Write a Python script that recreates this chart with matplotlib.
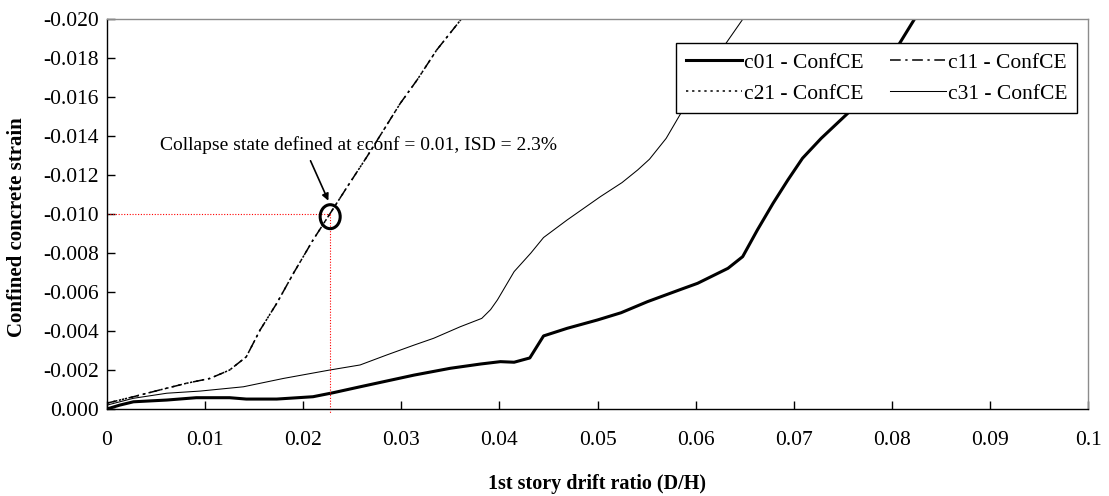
import matplotlib
matplotlib.use("Agg")
import matplotlib.pyplot as plt
from matplotlib.patches import Ellipse
import numpy as np

plt.rcParams['font.family'] = ['Liberation Serif', 'DejaVu Serif']
plt.rcParams['axes.unicode_minus'] = False

# drift ratio / strain
c01_x = [0, 0.0013, 0.0027, 0.0061, 0.0091, 0.0125, 0.0142, 0.0173, 0.0210, 0.0231,
         0.0258, 0.0313, 0.0350, 0.0381, 0.0401, 0.0415, 0.0431, 0.0445, 0.0469, 0.0500,
         0.0524, 0.0551, 0.0585, 0.0602, 0.0633, 0.0648, 0.0663, 0.0679, 0.0694, 0.0709,
         0.0728, 0.0755, 0.0780, 0.0808, 0.0823]
c01_y = [0, -0.0002, -0.00037, -0.00046, -0.00058, -0.00058, -0.00051, -0.00051, -0.00063, -0.00084,
         -0.00114, -0.00174, -0.00209, -0.00231, -0.00243, -0.0024, -0.00262, -0.00375, -0.00414, -0.00457,
         -0.00494, -0.00551, -0.00614, -0.00645, -0.00722, -0.00782, -0.00919, -0.01056, -0.01175, -0.01287,
         -0.01389, -0.01517, -0.0166, -0.01877, -0.0200]

c11_x = [0, 0.0027, 0.0054, 0.0081, 0.0105, 0.0125, 0.0142, 0.0156, 0.0173, 0.0190,
         0.0210, 0.0227, 0.0245, 0.0265, 0.0282, 0.0299, 0.0316, 0.0336, 0.0361]
c11_y = [-0.0003, -0.00063, -0.00098, -0.00132, -0.00157, -0.0020, -0.00268, -0.00405, -0.00542, -0.00696,
         -0.00867, -0.0100, -0.01141, -0.01295, -0.01432, -0.01569, -0.01688, -0.01842, -0.0200]

# c21 lies on top of c11 in the reference
c21_x = [0, 0.0027, 0.0054, 0.0081, 0.0105, 0.0125, 0.0142, 0.0156, 0.0173, 0.0190,
         0.0210, 0.0227, 0.0245, 0.0265, 0.0282, 0.0299, 0.0316, 0.0336, 0.0361]
c21_y = [-0.0003, -0.00063, -0.00098, -0.00132, -0.00157, -0.0020, -0.00268, -0.00405, -0.00542, -0.00696,
         -0.00867, -0.0100, -0.01141, -0.01295, -0.01432, -0.01569, -0.01688, -0.01842, -0.0200]

c31_x = [0, 0.0027, 0.0061, 0.0095, 0.0139, 0.0180, 0.0227, 0.0258, 0.0285, 0.0313,
         0.0333, 0.0360, 0.0382, 0.0391, 0.0398, 0.0415, 0.0432, 0.0445, 0.0469, 0.0503,
         0.0525, 0.0541, 0.0553, 0.0570, 0.0585, 0.0610, 0.0631, 0.0648]
c31_y = [-0.0002, -0.00055, -0.00081, -0.00092, -0.00114, -0.00157, -0.0020, -0.00226, -0.00277, -0.00328,
         -0.00363, -0.00422, -0.00465, -0.0051, -0.0056, -0.00705, -0.0080, -0.0088, -0.0097, -0.0109,
         -0.01162, -0.01227, -0.01282, -0.01389, -0.01518, -0.0170, -0.01877, -0.0200]

collapse_isd = 0.0227
collapse_strain = -0.010

fig = plt.figure(figsize=(11.09, 4.96), dpi=100)
ax = fig.add_axes([107 / 1109, 1 - 409 / 496, (1088 - 107) / 1109, (409 - 19.3) / 496])

l01, = ax.plot(c01_x, c01_y, color='black', lw=2.2, label='c01 - ConfCE')
l11, = ax.plot(c11_x, c11_y, color='black', lw=1.1, dashes=(7, 3, 1.5, 3), label='c11 - ConfCE')
l21, = ax.plot(c21_x, c21_y, color='black', lw=1.1, dashes=(1.5, 2.5), label='c21 - ConfCE')
l31, = ax.plot(c31_x, c31_y, color='black', lw=0.75, label='c31 - ConfCE')

# collapse markers
ax.plot([0, collapse_isd], [collapse_strain, collapse_strain], color='red', lw=0.8, ls=(0, (1, 1.5)))
ax.plot([collapse_isd, collapse_isd], [collapse_strain, 0.0002], color='red', lw=0.8,
        ls=(0, (1, 1.5)), clip_on=False)
ax.add_patch(Ellipse((0.02275, -0.00987), 0.00204, 0.00123, fill=False, ec='black', lw=2.2, zorder=5))
ax.annotate('', xy=(0.02268, -0.01056), xytext=(0.02063, -0.01287),
            arrowprops=dict(arrowstyle='-|>', color='black', lw=1.2, mutation_scale=10))
ax.text(0.0054, -0.01329, 'Collapse state defined at εconf = 0.01, ISD = 2.3%',
        fontsize=14, va='baseline', ha='left')

ax.set_xlim(0, 0.1)
ax.set_ylim(0, -0.020)
ax.set_xticks(np.arange(0, 0.1001, 0.01))
ax.set_xticklabels([f"{v:g}" for v in np.arange(0, 0.1001, 0.01)])
ax.set_yticks(np.arange(0, -0.0201, -0.002))
ax.set_yticklabels([f"{v:.3f}" for v in np.arange(0, -0.0201, -0.002)])
ax.tick_params(direction='in', length=6, width=1, labelsize=15.5, colors='black')
ax.tick_params(axis='x', pad=16)
ax.tick_params(axis='y', pad=6)

for s in ['left', 'bottom']:
    ax.spines[s].set_color('black')
    ax.spines[s].set_linewidth(1)
for s in ['top', 'right']:
    ax.spines[s].set_color('#8c8c8c')
    ax.spines[s].set_linewidth(1)

ax.set_xlabel('1st story drift ratio (D/H)', fontsize=14.5, fontweight='bold', labelpad=17)
ax.set_ylabel('Confined concrete strain', fontsize=15, fontweight='bold')
ax.yaxis.set_label_coords(-0.0815, 0.467)

leg = ax.legend(handles=[l01, l21, l11, l31], ncol=2, fontsize=15.5, loc='upper right',
                bbox_to_anchor=(1077 / 1109, 1 - 43 / 496), bbox_transform=fig.transFigure,
                frameon=True, fancybox=False, edgecolor='black', framealpha=1,
                handlelength=2.6, handletextpad=0.1, columnspacing=1.2, borderpad=0.45,
                labelspacing=0.5, borderaxespad=0)
leg.get_frame().set_linewidth(1)

fig.savefig('out.png', dpi=100)
